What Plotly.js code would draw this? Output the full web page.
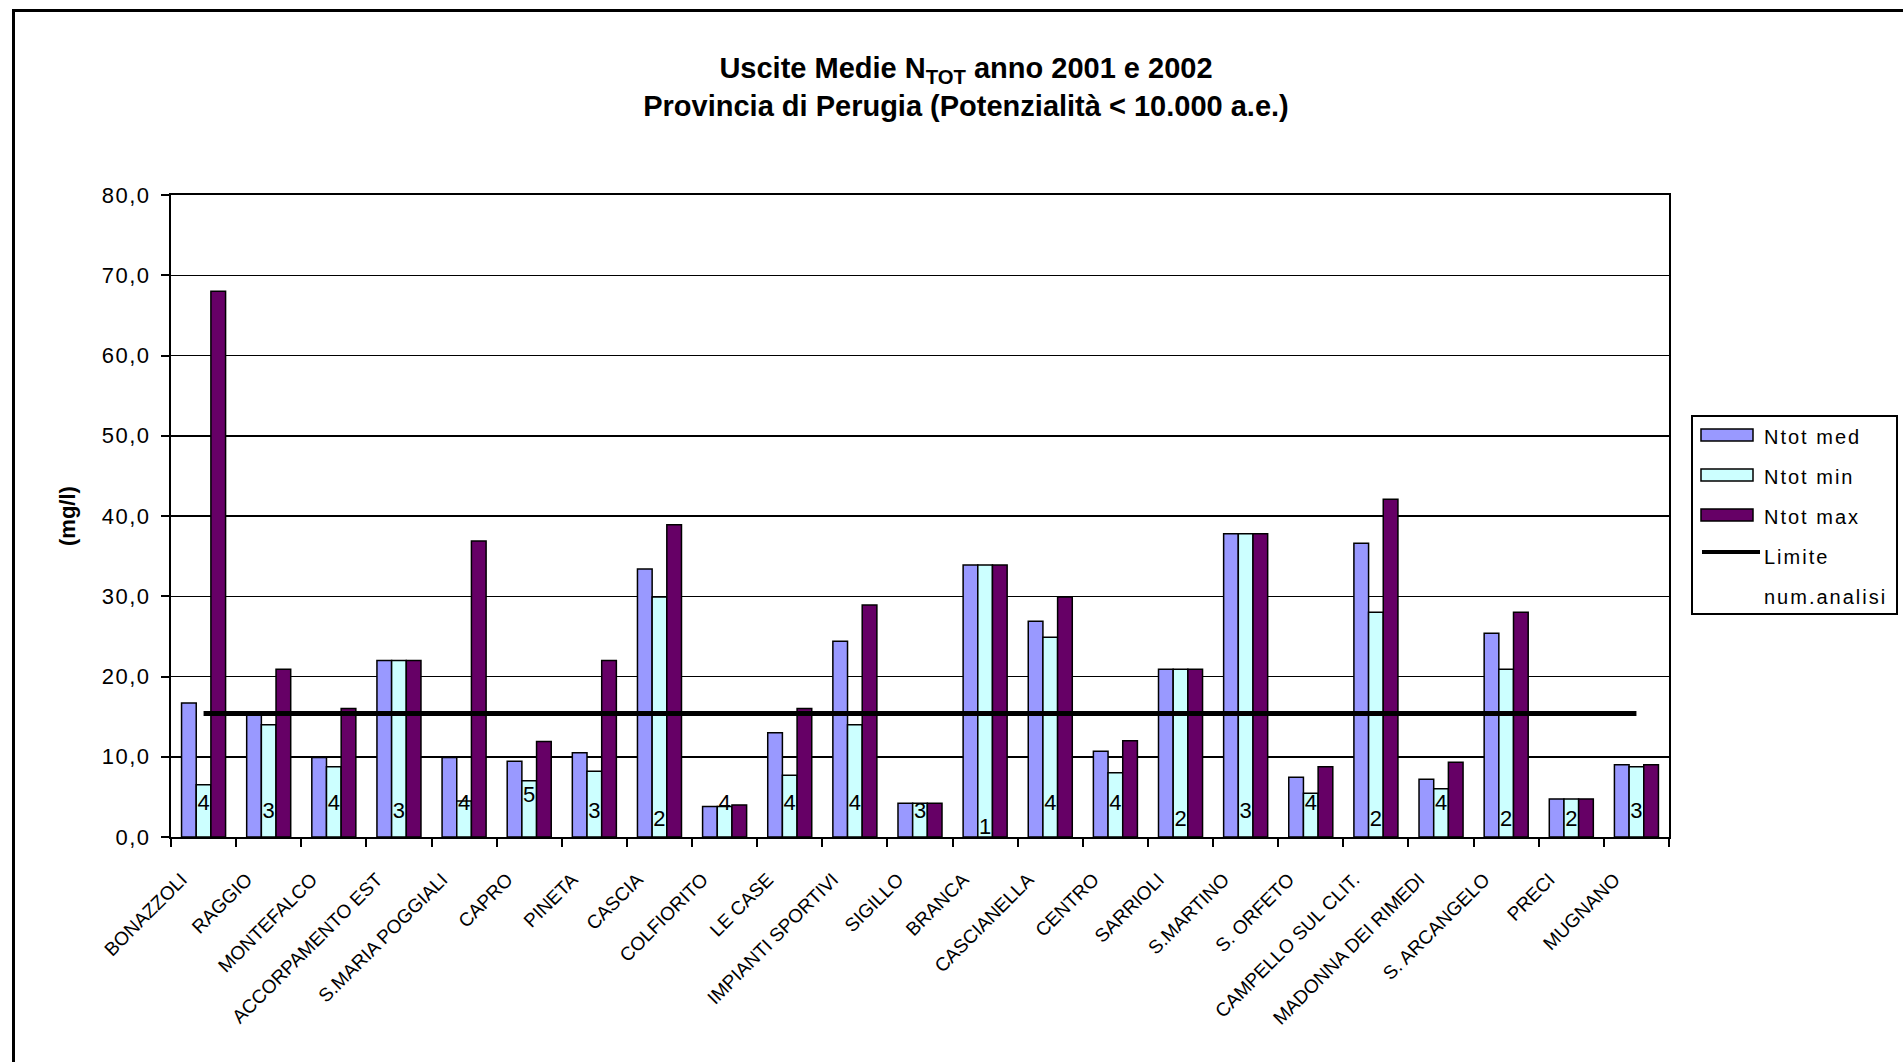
<!DOCTYPE html>
<html><head><meta charset="utf-8">
<script src="https://cdn.plot.ly/plotly-3.0.1.min.js"></script>
<style>
html,body{margin:0;padding:0;background:#fff;overflow:hidden;}
#chart{position:absolute;left:0;top:0;width:1903px;height:1062px;}
#frame{position:absolute;left:12px;top:9px;width:2000px;height:1200px;border-left:3px solid #000;border-top:3px solid #000;pointer-events:none;}
.ytick text{letter-spacing:1.5px;}
</style></head><body>
<div id="chart"></div><div id="frame"></div>
<script>
// ---- data ----
const categories = ['BONAZZOLI','RAGGIO','MONTEFALCO','ACCORPAMENTO EST','S.MARIA POGGIALI','CAPRO','PINETA','CASCIA','COLFIORITO','LE CASE','IMPIANTI SPORTIVI','SIGILLO','BRANCA','CASCIANELLA','CENTRO','SARRIOLI','S.MARTINO','S. ORFETO','CAMPELLO SUL CLIT.','MADONNA DEI RIMEDI','S. ARCANGELO','PRECI','MUGNANO'];
const ntotMed = [16.7, 15.4, 9.9, 22.0, 9.9, 9.45, 10.5, 33.4, 3.8, 13.0, 24.4, 4.2, 33.9, 26.9, 10.7, 20.9, 37.8, 7.45, 36.6, 7.2, 25.4, 4.75, 9.0];
const ntotMin = [6.5, 14.0, 8.75, 22.0, 4.5, 7.0, 8.2, 29.9, 3.8, 7.7, 14.0, 4.2, 33.9, 24.9, 8.0, 20.9, 37.8, 5.45, 28.0, 6.0, 20.9, 4.75, 8.75];
const ntotMax = [68.0, 20.9, 16.0, 22.0, 36.9, 11.9, 22.0, 38.9, 4.0, 16.0, 28.9, 4.2, 33.9, 29.9, 12.0, 20.9, 37.8, 8.75, 42.1, 9.3, 28.0, 4.75, 9.0];
const limite = [15.4, 15.4, 15.4, 15.4, 15.4, 15.4, 15.4, 15.4, 15.4, 15.4, 15.4, 15.4, 15.4, 15.4, 15.4, 15.4, 15.4, 15.4, 15.4, 15.4, 15.4, 15.4, 15.4];
const numAnalisi = [4, 3, 4, 3, 4, 5, 3, 2, 4, 4, 4, 3, 1, 4, 4, 2, 3, 4, 2, 4, 2, 2, 3];
const yTickVals = [0, 10, 20, 30, 40, 50, 60, 70, 80];
const seriesNames = ['Ntot med', 'Ntot min', 'Ntot max', 'Limite', 'num.analisi'];
const seriesColors = ['#9999FF', '#CCFFFF', '#660066', '#000000', '#000000'];

// ---- layout geometry (pixels) ----
const W = 1903, H = 1062;
const L = 171, R = 1669, T = 195, B = 837;
const px = X => (X - L) / (R - L);
const py = Y => (B - Y) / (B - T);
const FONT = 'Liberation Sans, Arial, sans-serif';

const barLine = {color: '#000', width: 1.5};
const traces = [
  {type: 'bar', name: seriesNames[0], x: categories, y: ntotMed, marker: {color: seriesColors[0], line: barLine}},
  {type: 'bar', name: seriesNames[1], x: categories, y: ntotMin, marker: {color: seriesColors[1], line: barLine}},
  {type: 'bar', name: seriesNames[2], x: categories, y: ntotMax, marker: {color: seriesColors[2], line: barLine}},
  {type: 'scatter', mode: 'lines', name: seriesNames[3], x: categories, y: limite, line: {color: seriesColors[3], width: 5}},
  {type: 'scatter', mode: 'text', name: seriesNames[4], x: categories, y: numAnalisi,
   text: numAnalisi.map(String), textposition: 'middle center',
   textfont: {family: FONT, size: 22, color: '#000'}}
];
traces.forEach(t => { t.showlegend = false; t.hoverinfo = 'skip'; });

// ---- custom legend (Excel style) ----
const shapes = [];
const annotations = [];
shapes.push({type: 'rect', xref: 'paper', yref: 'paper', x0: px(1692), x1: px(1897), y0: py(614), y1: py(416),
  line: {color: '#000', width: 2}, fillcolor: '#fff', layer: 'above'});
seriesNames.forEach((nm, i) => {
  const yc = 437 + 40 * i;
  if (i < 3) {
    shapes.push({type: 'rect', xref: 'paper', yref: 'paper', x0: px(1701), x1: px(1753), y0: py(yc + 4), y1: py(yc - 8),
      line: {color: '#000', width: 1.5}, fillcolor: seriesColors[i], layer: 'above'});
  } else if (i === 3) {
    shapes.push({type: 'line', xref: 'paper', yref: 'paper', x0: px(1702), x1: px(1760), y0: py(yc - 5), y1: py(yc - 5),
      line: {color: '#000', width: 4}, layer: 'above'});
  }
  annotations.push({xref: 'paper', yref: 'paper', x: px(1762), y: py(yc), xanchor: 'left', yanchor: 'middle',
    showarrow: false, text: '<span style="letter-spacing:2px">' + nm + '</span>',
    font: {family: FONT, size: 20, color: '#000'}});
});

// y-axis title
annotations.push({xref: 'paper', yref: 'paper', x: px(67), y: py(516), xanchor: 'center', yanchor: 'middle',
  textangle: -90, showarrow: false, text: '<b>(mg/l)</b>', font: {family: FONT, size: 22, color: '#000'}});

const layout = {
  width: W, height: H,
  margin: {l: L, r: W - R, t: T, b: H - B, pad: 0},
  paper_bgcolor: '#fff', plot_bgcolor: '#fff',
  separators: ',.',
  font: {family: FONT, color: '#000'},
  title: {
    text: '<b>Uscite Medie N<sub>TOT</sub> anno 2001 e 2002<br>Provincia di Perugia (Potenzialità &lt; 10.000 a.e.)</b>',
    font: {family: FONT, size: 29, color: '#000'},
    xref: 'paper', x: px(966), xanchor: 'center',
    yref: 'container', y: 1 - 78 / H, yanchor: 'top'
  },
  barmode: 'group', bargap: 0.324, bargroupgap: 0,
  xaxis: {
    type: 'category', range: [-0.5, categories.length - 0.5],
    showline: true, linecolor: '#000', linewidth: 2, mirror: true,
    ticks: 'outside', tickson: 'boundaries', ticklen: 8, tickwidth: 2, tickcolor: '#000',
    showgrid: false, zeroline: false, tickangle: -45,
    ticklabelshift: -22, ticklabelstandoff: 22,
    tickfont: {family: 'Liberation Sans Narrow, Arial Narrow, Liberation Sans, Arial', size: 19, color: '#000'}
  },
  yaxis: {
    range: [0, 80], tickvals: yTickVals, tickformat: '.1f',
    showline: true, linecolor: '#000', linewidth: 2, mirror: true,
    ticks: 'outside', ticklen: 8, tickwidth: 2, tickcolor: '#000',
    showgrid: true, gridcolor: '#000', gridwidth: 1.5, zeroline: false,
    ticklabelstandoff: 6,
    tickfont: {family: FONT, size: 22, color: '#000'}
  },
  shapes: shapes,
  annotations: annotations,
  showlegend: false
};

Plotly.newPlot('chart', traces, layout, {displayModeBar: false, staticPlot: true});
</script>
</body></html>
